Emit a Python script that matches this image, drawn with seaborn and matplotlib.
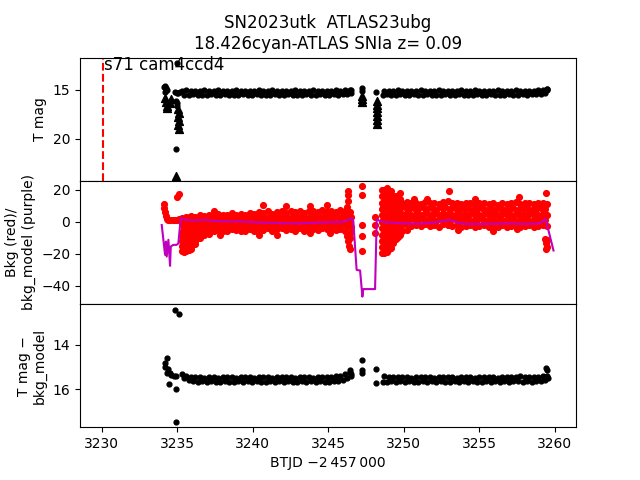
import matplotlib
matplotlib.use("Agg")
import matplotlib.pyplot as plt
import pandas as pd
import seaborn as sns

# ---------------------------------------------------------------------------
# data (BTJD - 2457000)
# ---------------------------------------------------------------------------
# two interleaved time grids per dense stretch (rows alternate between them)
t_seg1 = [3235.3, 3235.6, 3235.9, 3236.2, 3236.5, 3236.8, 3237.1, 3237.4, 3237.7, 3238.0,
          3238.3, 3238.6, 3238.9, 3239.2, 3239.5, 3239.8, 3240.1, 3240.4, 3240.7, 3241.0,
          3241.3, 3241.6, 3241.9, 3242.2, 3242.5, 3242.8, 3243.1, 3243.4, 3243.7, 3244.0,
          3244.3, 3244.6, 3244.9, 3245.2, 3245.5, 3245.8, 3246.1, 3246.4]
t_seg1b = [3235.45, 3235.75, 3236.05, 3236.35, 3236.65, 3236.95, 3237.25, 3237.55, 3237.85,
           3238.15, 3238.45, 3238.75, 3239.05, 3239.35, 3239.65, 3239.95, 3240.25, 3240.55,
           3240.85, 3241.15, 3241.45, 3241.75, 3242.05, 3242.35, 3242.65, 3242.95, 3243.25,
           3243.55, 3243.85, 3244.15, 3244.45, 3244.75, 3245.05, 3245.35, 3245.65, 3245.95,
           3246.25, 3246.5]
t_seg2 = [3248.7, 3249.0, 3249.3, 3249.6, 3249.9, 3250.2, 3250.5, 3250.8, 3251.1, 3251.4,
          3251.7, 3252.0, 3252.3, 3252.6, 3252.9, 3253.2, 3253.5, 3253.8, 3254.1, 3254.4,
          3254.7, 3255.0, 3255.3, 3255.6, 3255.9, 3256.2, 3256.5, 3256.8, 3257.1, 3257.4,
          3257.7, 3258.0, 3258.3, 3258.6, 3258.9, 3259.2, 3259.5]
t_seg2b = [3248.6, 3248.85, 3249.15, 3249.45, 3249.75, 3250.05, 3250.35, 3250.65, 3250.95,
           3251.25, 3251.55, 3251.85, 3252.15, 3252.45, 3252.75, 3253.05, 3253.35, 3253.65,
           3253.95, 3254.25, 3254.55, 3254.85, 3255.15, 3255.45, 3255.75, 3256.05, 3256.35,
           3256.65, 3256.95, 3257.25, 3257.55, 3257.85, 3258.15, 3258.45, 3258.75, 3259.05,
           3259.35]

# T mag, two rows per stretch
tmag1_rows = [
    [15.10, 15.05, 15.12, 15.08, 15.10, 15.06, 15.12, 15.09, 15.05, 15.11, 15.08, 15.12, 15.06,
     15.10, 15.07, 15.12, 15.09, 15.05, 15.11, 15.08, 15.06, 15.12, 15.09, 15.07, 15.11, 15.05,
     15.10, 15.08, 15.12, 15.06, 15.09, 15.11, 15.07, 15.10, 15.05, 15.08, 15.02, 14.98],
    [15.48, 15.52, 15.46, 15.50, 15.55, 15.48, 15.45, 15.52, 15.50, 15.47, 15.53, 15.48, 15.51,
     15.45, 15.52, 15.49, 15.46, 15.54, 15.48, 15.51, 15.47, 15.52, 15.49, 15.45, 15.52, 15.48,
     15.53, 15.46, 15.50, 15.52, 15.47, 15.51, 15.48, 15.45, 15.50, 15.43, 15.38, 15.30],
]
tmag2_rows = [
    [15.12, 15.08, 15.10, 15.05, 15.11, 15.07, 15.09, 15.12, 15.06, 15.10, 15.08, 15.11, 15.05,
     15.09, 15.12, 15.07, 15.10, 15.06, 15.11, 15.08, 15.05, 15.10, 15.12, 15.07, 15.09, 15.06,
     15.11, 15.08, 15.10, 15.05, 15.09, 15.12, 15.07, 15.10, 15.06, 15.04, 14.95],
    [15.50, 15.46, 15.52, 15.48, 15.45, 15.51, 15.54, 15.47, 15.50, 15.52, 15.46, 15.49, 15.53,
     15.48, 15.45, 15.52, 15.50, 15.47, 15.52, 15.48, 15.51, 15.46, 15.53, 15.49, 15.45, 15.52,
     15.48, 15.50, 15.46, 15.52, 15.48, 15.45, 15.51, 15.47, 15.43, 15.38, 15.30],
]
tmag_dot_t = [3234.1, 3234.2, 3234.25, 3234.3, 3234.2, 3234.85, 3234.95, 3235.05, 3235.15,
              3234.9, 3235.0, 3234.95, 3234.92, 3234.95, 3246.5, 3247.2, 3247.25, 3248.15,
              3259.45, 3259.5]
tmag_dot_v = [14.7, 14.6, 14.8, 15.0, 15.2, 15.2, 15.35, 15.3, 15.25,
              16.1, 16.3, 16.6, 21.0, 12.3, 15.0, 14.8, 15.1, 15.2,
              14.9, 15.0]
tmag_tri_t = [3234.2, 3234.25, 3234.3, 3234.3, 3234.6, 3234.55,
              3235.05, 3235.1, 3235.05, 3235.1, 3235.05, 3235.1, 3234.92,
              3247.2, 3247.25, 3247.2,
              3248.2, 3248.25, 3248.2, 3248.25, 3248.2, 3248.25, 3248.2]
tmag_tri_v = [15.8, 16.2, 16.6, 16.9, 15.9, 16.3,
              17.0, 17.4, 17.8, 18.2, 18.6, 19.0, 23.8,
              15.6, 15.9, 16.2,
              16.1, 16.5, 16.9, 17.3, 17.7, 18.1, 18.5]

# background flux, five rows per stretch
bkg1_rows = [
    [2.5, 3.0, 3.5, 3.0, 4.0, 3.5, 4.5, 4.0, 5.0, 4.5, 4.0, 5.5, 4.5, 5.0, 4.5, 5.5, 5.0, 6.0, 5.5,
     6.5, 5.0, 6.0, 6.5, 5.5, 7.0, 6.0, 6.5, 5.5, 7.0, 6.5, 6.0, 7.5, 6.5, 7.0, 6.0, 7.5, 6.5, 6.0],
    [0.5, 1.0, 1.0, 0.5, 1.5, 1.0, 2.0, 1.5, 2.0, 2.0, 1.5, 2.5, 2.0, 2.0, 1.5, 2.5, 2.5, 3.0, 2.5,
     3.0, 2.5, 3.0, 3.5, 2.5, 3.5, 3.0, 3.0, 2.5, 3.5, 3.5, 3.0, 4.0, 3.0, 3.5, 3.0, 4.0, 3.5, 3.0],
    [-1.5, -1.0, -1.5, -2.0, -1.0, -1.5, -0.5, -1.0, -0.5, -1.0, -1.5, 0.0, -0.5, -1.0, -1.0, 0.0,
     -0.5, 0.5, 0.0, 0.5, -0.5, 0.0, 1.0, 0.0, 0.5, 0.0, 0.5, -0.5, 1.0, 0.5, 0.0, 1.0, 0.5, 0.5,
     0.0, 1.0, 0.5, 0.0],
    [-4.0, -4.0, -4.5, -4.5, -3.5, -4.0, -3.0, -3.5, -3.0, -3.5, -4.0, -2.5, -3.0, -3.5, -3.5, -2.5,
     -3.0, -2.0, -2.5, -2.0, -3.0, -2.5, -1.5, -2.5, -2.0, -2.5, -2.0, -3.0, -1.5, -2.0, -2.5, -1.5,
     -2.0, -2.0, -2.5, -1.5, -2.5, -3.0],
    [-6.5, -7.0, -7.0, -6.5, -6.0, -6.5, -5.5, -6.0, -5.0, -5.5, -6.0, -4.5, -5.0, -6.0, -5.5, -4.5,
     -5.5, -4.5, -5.0, -4.0, -5.5, -4.5, -4.0, -5.0, -4.5, -5.5, -4.0, -5.5, -4.0, -4.5, -5.0, -4.0,
     -4.5, -4.5, -5.0, -4.5, -6.0, -7.0],
]
bkg2_rows = [
    [13.0, 13.5, 12.5, 13.0, 12.0, 12.5, 11.5, 12.0, 11.0, 12.5, 11.5, 12.0, 11.0, 12.5, 13.0, 11.5,
     12.0, 11.0, 11.5, 12.0, 10.5, 11.5, 12.0, 11.0, 11.5, 10.5, 12.0, 11.0, 11.5, 12.5, 11.0, 11.5,
     12.0, 11.0, 11.5, 12.0, 11.0],
    [9.0, 9.5, 9.0, 9.5, 8.5, 9.0, 8.0, 8.5, 8.0, 9.0, 8.0, 8.5, 7.5, 9.0, 9.0, 8.0, 8.5, 7.5, 8.0,
     8.5, 7.5, 8.0, 8.5, 7.5, 8.0, 7.5, 8.5, 7.5, 8.0, 8.5, 7.5, 8.0, 8.5, 7.5, 8.0, 8.5, 8.0],
    [5.0, 5.5, 5.0, 5.5, 5.0, 5.5, 4.5, 5.0, 4.5, 5.5, 4.5, 5.0, 4.0, 5.5, 5.0, 4.5, 5.0, 4.0, 4.5,
     5.0, 4.0, 4.5, 5.0, 4.0, 4.5, 4.0, 5.0, 4.0, 4.5, 5.0, 4.0, 4.5, 5.0, 4.0, 4.5, 5.0, 4.5],
    [1.0, 1.5, 1.0, 1.5, 1.5, 2.0, 1.0, 1.5, 1.0, 2.0, 1.0, 1.5, 0.5, 2.0, 1.5, 1.0, 1.5, 0.5, 1.0,
     1.5, 0.5, 1.0, 1.5, 0.5, 1.0, 0.5, 1.5, 0.5, 1.0, 1.5, 0.5, 1.0, 1.5, 0.5, 1.0, 1.5, 1.0],
    [-3.0, -2.5, -3.0, -2.5, -2.0, -1.5, -2.5, -2.0, -2.5, -1.5, -2.5, -2.0, -3.0, -1.5, -2.0, -2.5,
     -2.0, -3.0, -2.5, -2.0, -3.0, -2.5, -2.0, -3.5, -2.5, -3.0, -2.0, -3.0, -2.5, -2.0, -3.0, -2.5,
     -2.0, -3.0, -2.5, -2.0, -2.5],
]
bkg_x_t = [
    # early ramp before the first stretch
    3234.1, 3234.15, 3234.2, 3234.25, 3234.3, 3234.4, 3234.55, 3234.7, 3234.85, 3235.0, 3235.1,
    3234.95, 3235.1,
    # low tail at the start of stretch 1
    3235.3, 3235.3, 3235.3, 3235.3, 3235.45, 3235.45, 3235.45, 3235.45, 3235.45, 3235.45,
    3235.45, 3235.6, 3235.6, 3235.6, 3235.6, 3235.75, 3235.75, 3235.75, 3235.75, 3235.75,
    3235.75, 3235.9, 3235.9, 3235.9, 3235.9, 3236.05, 3236.05, 3236.2, 3236.2, 3236.2,
    3236.35, 3236.5, 3236.5, 3236.8, 3237.1,
    # scattered outliers along stretch 1
    3235.85, 3237.4, 3240.7, 3242.2, 3243.8, 3244.9, 3237.8, 3240.4, 3241.6, 3243.8, 3245.1,
    # end of stretch 1 and the gap
    3246.25, 3246.3, 3246.35, 3246.4, 3246.45, 3246.3, 3246.3, 3246.3, 3246.2,
    3247.25, 3247.25, 3247.25, 3247.25, 3247.25, 3248.1, 3248.1, 3248.1,
    # wide block at the start of stretch 2
    3248.55, 3248.55, 3248.55, 3248.55, 3248.55, 3248.55, 3248.55, 3248.55, 3248.55, 3248.55,
    3248.55, 3248.7, 3248.7, 3248.7, 3248.7, 3248.7, 3248.7, 3248.7,
    3248.85, 3248.85, 3248.85, 3248.85, 3248.85, 3248.85, 3248.85, 3248.85, 3248.85, 3248.85,
    3248.85, 3249.0, 3249.0, 3249.0, 3249.0, 3249.0,
    3249.15, 3249.15, 3249.15, 3249.15, 3249.15, 3249.15, 3249.15, 3249.15, 3249.15, 3249.15,
    3249.3, 3249.3, 3249.3, 3249.3, 3249.45, 3249.45, 3249.45, 3249.45, 3249.45, 3249.45,
    3249.45, 3249.45, 3249.6, 3249.6, 3249.6, 3249.75, 3249.75, 3249.75, 3249.75, 3249.9,
    3250.2,
    # scattered outliers along stretch 2 and its end
    3250.7, 3251.5, 3253.0, 3254.7, 3257.6, 3259.4, 3253.6, 3255.9, 3257.5,
    3259.35, 3259.4, 3259.45, 3259.5, 3259.4,
]
bkg_x_v = [
    11.0, 8.5, 6.0, 3.5, 1.5, 1.0, 1.0, 1.0, 1.2, 1.2, 1.5,
    15.5, 17.5,
    -9.0, -12.0, -15.0, -18.0, 1.5, -2.0, -5.5, -10.0, -13.0, -16.0,
    -19.0, -9.0, -12.0, -15.0, -18.0, 2.0, -2.0, -6.0, -10.5, -14.0,
    -17.5, -9.0, -12.0, -15.0, -17.0, -10.0, -13.0, -9.0, -12.0, -14.0,
    -10.0, -8.5, -10.0, -8.0, -7.5,
    3.3, 6.9, 10.6, 10.0, 10.0, 10.6, -8.0, -8.1, -8.1, -7.0, -7.0,
    -9.0, -12.0, -15.0, -17.0, -10.0, 19.0, 17.0, 12.7, 9.0,
    22.5, 17.0, -1.9, -8.7, -18.5, 3.3, -1.9, -7.0,
    20.0, 16.0, 12.0, 8.0, 4.0, 0.0, -4.0, -8.0, -12.0, -16.0,
    -19.5, 20.0, 16.5, -6.5, -10.0, -13.5, -17.0, -19.5,
    21.0, 17.0, 13.0, 9.0, 5.0, 1.0, -3.0, -7.0, -11.0, -15.0,
    -19.0, 17.5, -6.5, -10.0, -13.5, -17.0,
    19.5, 15.5, 11.5, 7.5, 3.5, -0.5, -4.5, -8.5, -12.5, -16.5,
    16.0, -6.5, -10.0, -13.5, 16.0, 12.0, 8.0, 4.0, 0.0, -4.0,
    -8.0, -11.0, 15.5, -6.0, -9.5, 18.0, 14.0, -5.5, -8.0, -5.5,
    -5.0,
    14.0, 14.5, 19.0, 14.0, 15.8, 18.0, -5.0, -5.5, -4.5,
    -11.0, -13.5, -16.0, -11.5, -17.0,
]

# background model (purple line)
model_t = [3233.97, 3234.19, 3234.25, 3234.30, 3234.41, 3234.52, 3234.57, 3234.74, 3234.95,
           3235.07, 3235.23, 3235.40, 3236.0, 3236.8, 3237.5, 3238.5, 3239.0, 3240.0, 3241.0,
           3242.0, 3243.0, 3244.0, 3245.0, 3246.0, 3246.4, 3246.54, 3246.65, 3246.87, 3247.1,
           3247.25, 3247.31, 3248.09, 3248.2, 3248.4, 3249.0, 3250.0, 3251.0, 3252.0, 3253.0,
           3253.5, 3254.0, 3255.0, 3256.0, 3257.0, 3258.0, 3259.0, 3259.38, 3259.9]
model_v = [-2.0, -20.6, -12.3, -21.7, -11.2, -27.5, -15.4, -14.4, -14.4,
           -13.5, 2.3, 1.5, 0.8, 1.2, 0.5, 0.2, 0.4, -0.3, -0.6,
           -0.9, -1.0, -0.6, -0.3, 0.0, 1.5, 2.3, 0.5, -30.0, -30.4,
           -46.7, -42.0, -42.0, 1.7, 0.5, -0.5, -1.0, -1.2, -0.5, 1.2,
           -0.3, -1.3, -1.3, -1.2, -1.0, -1.3, -1.0, 1.7, -17.9]

# T mag - bkg_model, two rows per stretch
diff1_rows = [
    [15.32, 15.40, 15.44, 15.47, 15.45, 15.48, 15.46, 15.44, 15.48, 15.46, 15.47, 15.45, 15.48,
     15.44, 15.47, 15.46, 15.48, 15.45, 15.47, 15.44, 15.48, 15.46, 15.45, 15.47, 15.44, 15.48,
     15.46, 15.47, 15.45, 15.48, 15.46, 15.44, 15.47, 15.45, 15.42, 15.40, 15.32, 15.24],
    [15.52, 15.58, 15.62, 15.66, 15.64, 15.68, 15.63, 15.66, 15.68, 15.64, 15.66, 15.69, 15.63,
     15.67, 15.65, 15.70, 15.64, 15.66, 15.68, 15.63, 15.67, 15.65, 15.69, 15.64, 15.66, 15.68,
     15.63, 15.67, 15.65, 15.68, 15.64, 15.66, 15.67, 15.64, 15.62, 15.58, 15.50, 15.42],
]
diff2_rows = [
    [15.42, 15.44, 15.46, 15.45, 15.47, 15.44, 15.48, 15.46, 15.45, 15.47, 15.44, 15.48, 15.46,
     15.47, 15.45, 15.44, 15.48, 15.46, 15.47, 15.45, 15.48, 15.44, 15.46, 15.47, 15.45, 15.48,
     15.46, 15.44, 15.47, 15.45, 15.42, 15.44, 15.46, 15.45, 15.44, 15.42, 15.40],
    [15.66, 15.68, 15.64, 15.67, 15.65, 15.69, 15.63, 15.66, 15.68, 15.64, 15.67, 15.65, 15.69,
     15.64, 15.66, 15.68, 15.63, 15.67, 15.65, 15.68, 15.64, 15.66, 15.69, 15.63, 15.67, 15.65,
     15.68, 15.64, 15.66, 15.63, 15.65, 15.67, 15.64, 15.66, 15.63, 15.62, 15.58],
]
diff_x_t = [3234.19, 3234.2, 3234.34, 3234.34, 3234.4, 3234.52, 3234.48, 3234.6, 3234.75,
            3234.9, 3234.94, 3234.94, 3234.85, 3235.14, 3246.45, 3246.5, 3247.25, 3247.25,
            3247.25, 3248.15, 3248.15, 3259.4, 3259.45, 3259.56]
diff_x_v = [14.83, 15.0, 14.6, 15.26, 15.1, 15.29, 15.79, 15.35, 15.4,
            15.42, 16.0, 17.5, 12.4, 12.6, 15.15, 15.3, 14.68, 15.14,
            15.29, 15.1, 15.74, 15.06, 15.12, 15.5]

title = "SN2023utk  ATLAS23ubg\n18.426cyan-ATLAS SNIa z= 0.09"
sector_label = "s71 cam4ccd4"
sector_start = 3230.07


def band(times_a, times_b, rows):
    """Flatten value rows into a long table; rows alternate between the two time grids."""
    tt, vv = [], []
    for i, row in enumerate(rows):
        times = times_a if i % 2 == 0 else times_b
        assert len(row) == len(times)
        tt.extend(times)
        vv.extend(row)
    return pd.DataFrame({"t": tt, "v": vv})


def points(ts, vs):
    assert len(ts) == len(vs)
    return pd.DataFrame({"t": ts, "v": vs})


tmag_df = pd.concat([band(t_seg1, t_seg1b, tmag1_rows), band(t_seg2, t_seg2b, tmag2_rows),
                     points(tmag_dot_t, tmag_dot_v)], ignore_index=True)
tri_df = points(tmag_tri_t, tmag_tri_v)
bkg_df = pd.concat([band(t_seg1, t_seg1b, bkg1_rows), band(t_seg2, t_seg2b, bkg2_rows),
                    points(bkg_x_t, bkg_x_v)], ignore_index=True)
model_df = points(model_t, model_v)
diff_df = pd.concat([band(t_seg1, t_seg1b, diff1_rows), band(t_seg2, t_seg2b, diff2_rows),
                     points(diff_x_t, diff_x_v)], ignore_index=True)

# ---------------------------------------------------------------------------
fig, axes = plt.subplots(3, 1, sharex=True, figsize=(6.4, 4.8), dpi=100)
fig.subplots_adjust(hspace=0)
ax0, ax1, ax2 = axes

dot_kw = dict(color="k", edgecolor="k", s=12, linewidth=1.0, legend=False)

sns.scatterplot(data=tmag_df, x="t", y="v", ax=ax0, **dot_kw)
sns.scatterplot(data=tri_df, x="t", y="v", ax=ax0, marker="^", color="k", edgecolor="k",
                s=32, linewidth=1.0, legend=False)
ax0.axvline(sector_start, color="r", linestyle="--", linewidth=1.5)
ax0.text(sector_start + 0.08, 0.897, sector_label, fontsize=12,
         transform=ax0.get_xaxis_transform(), va="baseline")
ax0.set_ylim(24.3, 11.7)
ax0.set_yticks([15, 20])
ax0.set_ylabel("T mag")
ax0.set_title(title, fontsize=12)

sns.scatterplot(data=bkg_df, x="t", y="v", ax=ax1, color="r", edgecolor="r", s=17,
                linewidth=1.0, legend=False)
sns.lineplot(data=model_df, x="t", y="v", ax=ax1, color=(0.75, 0, 0.75), linewidth=1.5,
             sort=False, estimator=None)
ax1.set_ylim(-51.3, 25.6)
ax1.set_yticks([20, 0, -20, -40])
ax1.set_ylabel("Bkg (red)/\nbkg_model (purple)")

sns.scatterplot(data=diff_df, x="t", y="v", ax=ax2, **dot_kw)
ax2.set_ylim(17.73, 12.14)
ax2.set_yticks([14, 16])
ax2.set_ylabel("T mag \u2212\nbkg_model")

for ax in (ax0, ax1):
    ax.tick_params(axis="x", bottom=False)

ax2.set_xlim(3228.56, 3261.39)
ax2.set_xlabel("BTJD \u22122\u2009457\u2009000")

fig.savefig("out.png", dpi=100)
